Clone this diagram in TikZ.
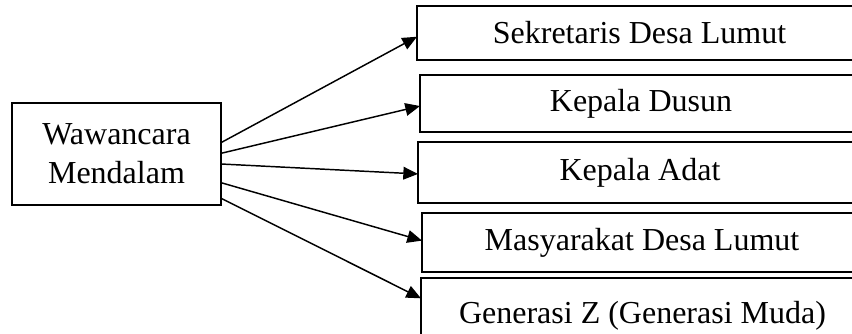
\documentclass[tikz,border=0pt]{standalone}
\usepackage{fontspec}
\setmainfont{Liberation Serif}
\usetikzlibrary{arrows.meta}
\tikzset{
  txt/.style={font=\fontsize{24}{29.5}\selectfont},
  srcbox/.style={draw, line width=1.5pt, txt, align=center, inner sep=0pt, outer sep=0pt},
  tgtbox/.style={draw, line width=1.3pt, txt, inner sep=0pt, outer sep=0pt},
  link/.style={line width=1.1pt, -{Triangle[length=11pt,width=9.5pt]}}
}
\begin{document}
\begin{tikzpicture}[x=0.75pt,y=-0.75pt]
\useasboundingbox (0,0) rectangle (852,334);
\clip (0,0) rectangle (852,334);
\node[srcbox, minimum width=156.75pt, minimum height=76.5pt] (L) at (116.5,154) {Wawancara\\Mendalam};
\node[tgtbox, minimum width=333.75pt, minimum height=40.5pt] (B1) at (639.5,33) {Sekretaris Desa Lumut};
\node[tgtbox, minimum width=331.5pt, minimum height=42.75pt] (B2) at (641,103.5) {Kepala Dusun};
\node[tgtbox, line width=1.7pt, minimum width=333pt, minimum height=45.75pt] (B3) at (640,172.5) {Kepala Adat};
\node[tgtbox, line width=1.5pt, minimum width=330pt, minimum height=44.25pt] (B4) at (642,242.5) {Masyarakat Desa Lumut};
\node[tgtbox, line width=1.5pt, minimum width=330.75pt, minimum height=52.5pt] (B5) at (641.5,313) {};
\node[txt, anchor=base] (T5) at (642.5,323) {Generasi Z (Generasi Muda)};
\draw[link] ([yshift=8.5pt]L.east) -- ([yshift=-2.8pt]B1.west);
\draw[link] ([yshift=0.5pt]L.east) -- ([yshift=-1.9pt]B2.west);
\draw[link] ([yshift=-7.5pt]L.east) -- ([yshift=-1.1pt]B3.west);
\draw[link] ([yshift=-21.5pt]L.east) -- ([yshift=1.4pt]B4.west);
\draw[link] ([yshift=-33.2pt]L.east) -- ([yshift=11pt]B5.west);
\end{tikzpicture}
\end{document}
